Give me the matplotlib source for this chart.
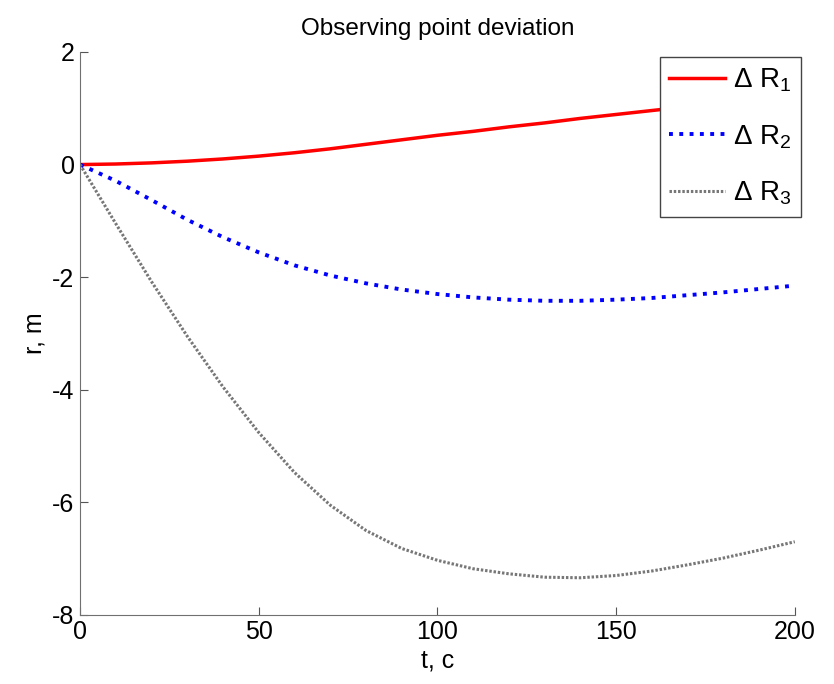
import numpy as np
from matplotlib import pyplot as plt

plt.rcParams['font.family'] = ['Liberation Sans', 'DejaVu Sans']
plt.rcParams['mathtext.fontset'] = 'custom'
plt.rcParams['mathtext.rm'] = 'Liberation Sans'
plt.rcParams['mathtext.it'] = 'Liberation Sans'
plt.rcParams['mathtext.default'] = 'regular'

# time, s
t = [0, 10, 20, 30, 40, 50, 60, 70, 80, 90, 100,
     110, 120, 130, 140, 150, 160, 170, 180, 190, 200]
# deviations, m
dR1 = [0, 0.01, 0.03, 0.06, 0.10, 0.15, 0.21, 0.28, 0.36, 0.44, 0.52,
       0.59, 0.67, 0.74, 0.82, 0.89, 0.96, 1.03, 1.09, 1.15, 1.19]
dR2 = [0, -0.29, -0.63, -0.98, -1.29, -1.56, -1.79, -1.97, -2.11, -2.22, -2.30,
       -2.36, -2.40, -2.42, -2.42, -2.40, -2.37, -2.32, -2.27, -2.21, -2.15]
dR3 = [0, -1.05, -2.08, -3.05, -3.95, -4.76, -5.47, -6.05, -6.50, -6.82, -7.03,
       -7.18, -7.27, -7.33, -7.34, -7.30, -7.22, -7.11, -6.99, -6.85, -6.70]
labels = ['$\\Delta\\ R_1$', '$\\Delta\\ R_2$', '$\\Delta\\ R_3$']

fig = plt.figure(figsize=(8.34, 6.84), dpi=100)
ax = fig.add_axes([0.096, 0.101, 0.857, 0.823])

ax.plot(t, dR1, '-', color='#ff0000', lw=2.5, label=labels[0])
ax.plot(t, dR2, ':', color='#0000ff', lw=2.8, label=labels[1])
ax.plot(t, dR3, linestyle=(0, (0.8, 0.6)), color='#777777', lw=2.2, label=labels[2])

ax.set_xlim(0, 200)
ax.set_ylim(-8, 2)
ax.set_xticks([0, 50, 100, 150, 200])
ax.set_yticks([-8, -6, -4, -2, 0, 2])
ax.set_yticklabels(['-8', '-6', '-4', '-2', '0', '2'])
for s in ['top', 'right']:
    ax.spines[s].set_visible(False)
for s in ['left', 'bottom']:
    ax.spines[s].set_color('#707070')
ax.tick_params(direction='in', length=6, color='#555555', labelsize=18, pad=4)

ax.set_title('Observing point deviation', fontsize=17.5, pad=12)
ax.set_xlabel('t, c', fontsize=18, labelpad=3)
ax.set_ylabel('r, m', fontsize=18, labelpad=4)

leg = ax.legend(loc='upper right', bbox_to_anchor=(0.961, 0.917),
                bbox_transform=fig.transFigure, fontsize=20, fancybox=False,
                framealpha=1, edgecolor='#444444', handlelength=2.0,
                handletextpad=0.3, borderpad=0.35, labelspacing=1.05,
                borderaxespad=0)
leg.get_frame().set_linewidth(1.0)

plt.savefig('out.png', dpi=100)
